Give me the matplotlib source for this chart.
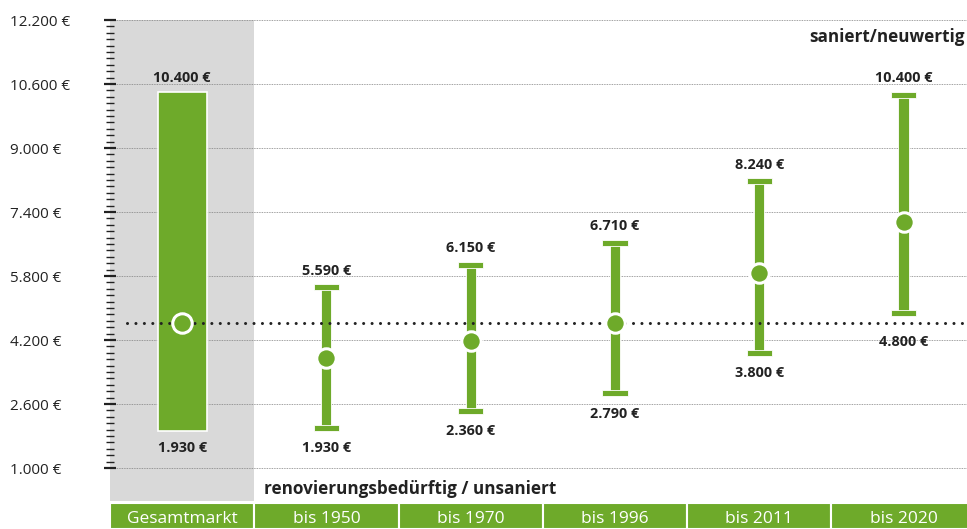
import matplotlib.pyplot as plt
from matplotlib.ticker import FuncFormatter

# data
categories = ["Gesamtmarkt", "bis 1950", "bis 1970", "bis 1996", "bis 2011", "bis 2020"]
lows = [1930, 1930, 2360, 2790, 3800, 4800]
highs = [10400, 5590, 6150, 6710, 8240, 10400]
mids = [4620, 3740, 4180, 4620, 5880, 7140]
market_line = 4620
y_ticks = [1000, 2600, 4200, 5800, 7400, 9000, 10600, 12200]

green = "#6eaa2a"
gray = "#d9d9d9"
dark = "#222222"
plt.rcParams["font.family"] = ["Open Sans", "DejaVu Sans"]

def euro(v, pos=None):
    return f"{v:,.0f} €".replace(",", ".")

fig = plt.figure(figsize=(9.67, 5.29), dpi=100)
W, H = 967, 529
ax = fig.add_axes([110 / W, 28 / H, (W - 110) / W, 481 / H])
ax.set_xlim(-0.5, 5.44)
ax.set_ylim(175, 12200)

# grey background for the whole market column
ax.axvspan(-0.5, 0.5, color=gray, zorder=0, lw=0)

# grid lines
for t in y_ticks:
    ax.axhline(t, color="#808080", lw=0.6, ls=(0, (1, 1)), zorder=1)

x = list(range(len(categories)))

# whole market: solid bar
ax.bar(x[0], highs[0] - lows[0], bottom=lows[0], width=0.34, color=green,
       edgecolor="white", lw=1.2, zorder=3)

# year groups: range bars with caps
cap_h = 150
for i in x[1:]:
    ax.bar(i, highs[i] - lows[i], bottom=lows[i], width=0.07, color=green,
           edgecolor="white", lw=0.6, zorder=3)
    ax.bar(i, cap_h, bottom=highs[i] - cap_h, width=0.175, color=green,
           edgecolor="white", lw=0.6, zorder=3)
    ax.bar(i, cap_h, bottom=lows[i], width=0.175, color=green,
           edgecolor="white", lw=0.6, zorder=3)

# dotted market line
ax.plot([-0.38, 5.44], [market_line, market_line], color=dark, lw=2.2,
        dashes=(0.01, 2.75), dash_capstyle="round", zorder=4)

# midpoints
ax.plot(x, mids, "o", ms=14, mfc=green, mec="white", mew=2.2, zorder=5, ls="none")

# value labels
for i in x:
    ax.annotate(euro(highs[i]), (i, highs[i]), xytext=(0, 10), textcoords="offset points",
                ha="center", va="center", fontsize=10.4, fontweight="bold", color=dark)
    off = -19 if i == 5 else -12.5
    ax.annotate(euro(lows[i]), (i, lows[i]), xytext=(0, off), textcoords="offset points",
                ha="center", va="center", fontsize=10.4, fontweight="bold", color=dark)

# y axis
ax.set_yticks(y_ticks)
ax.yaxis.set_major_formatter(FuncFormatter(euro))
ax.yaxis.set_minor_locator(plt.FixedLocator([v for v in range(1000, 12201, 160) if v not in y_ticks]))
ax.tick_params(axis="y", which="major", direction="inout", length=8, width=1.6,
               color=dark, labelsize=11, labelcolor=dark, pad=68)
ax.tick_params(axis="y", which="minor", direction="inout", length=6, width=1.0, color=dark)
for lab in ax.get_yticklabels():
    lab.set_horizontalalignment("left")
ax.set_xticks([])
for s in ax.spines.values():
    s.set_visible(False)

ax.text(0.565, 175 + 310, "renovierungsbedürftig / unsaniert", ha="left", va="center",
        fontsize=12.3, fontweight="bold", color=dark, zorder=6)
fig.text(965 / W, 1 - 37 / H, "saniert/neuwertig", ha="right", va="center",
         fontsize=12.3, fontweight="bold", color=dark, zorder=6)

# category strip at the bottom
sx = fig.add_axes([110 / W, 0, (W - 110) / W, 26 / H])
sx.set_xlim(ax.get_xlim())
sx.set_ylim(0, 1)
sx.bar(x, [1] * len(x), width=1, color=green, edgecolor="white", lw=1.5)
for i, c in zip(x, categories):
    sx.text(i, 0.4, c, ha="center", va="center", color="white", fontsize=12.5)
sx.axis("off")

fig.savefig("out.png", dpi=100)
